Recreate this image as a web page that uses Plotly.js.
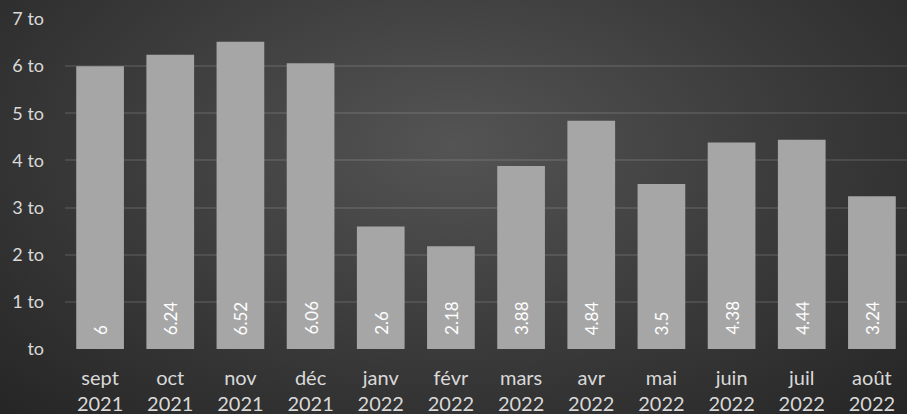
<!DOCTYPE html>
<html>
<head>
<meta charset="utf-8">
<script src="https://cdn.plot.ly/plotly-3.0.1.min.js"></script>
<style>
html,body{margin:0;padding:0;}
#chart{width:907px;height:414px;background:radial-gradient(ellipse 70% 90% at 50% 35%, #545454 0%, #3a3a3a 55%, #262626 100%);}
</style>
</head>
<body>
<div id="chart"></div>
<script>
const categories = ["sept<br>2021","oct<br>2021","nov<br>2021","déc<br>2021","janv<br>2022","févr<br>2022","mars<br>2022","avr<br>2022","mai<br>2022","juin<br>2022","juil<br>2022","août<br>2022"];
const values = [6, 6.24, 6.52, 6.06, 2.6, 2.18, 3.88, 4.84, 3.5, 4.38, 4.44, 3.24];
const yTickVals = [0,1,2,3,4,5,6,7];
const yTickText = ["to","1 to","2 to","3 to","4 to","5 to","6 to","7 to"];
const labels = values.map(v => String(v));

const font = "Lato, 'Noto Sans', sans-serif";
const annotations = categories.map((c, i) => ({
  x: c, y: 0, xref: "x", yref: "y",
  text: labels[i], showarrow: false,
  textangle: -90, yanchor: "bottom", xanchor: "center",
  yshift: 12,
  font: {family: font, size: 17, color: "#ffffff"}
}));

Plotly.newPlot("chart", [{
  type: "bar",
  x: categories,
  y: values,
  marker: {color: "#a6a6a6"},
  hoverinfo: "x+y"
}], {
  width: 907, height: 414,
  margin: {l: 65, r: 0, t: 19, b: 65},
  paper_bgcolor: "rgba(0,0,0,0)",
  plot_bgcolor: "rgba(0,0,0,0)",
  bargap: 0.32,
  showlegend: false,
  annotations: annotations,
  xaxis: {
    tickfont: {family: font, size: 20, color: "#d9d9d9"},
    showgrid: false, zeroline: false, showline: false,
    ticks: "", ticklabelstandoff: 15
  },
  yaxis: {
    range: [0, 7],
    tickvals: yTickVals, ticktext: yTickText,
    tickfont: {family: font, size: 18, color: "#d9d9d9"},
    gridcolor: "rgba(255,255,255,0.1)", gridwidth: 2,
    zeroline: false, showline: false, ticks: "",
    ticklabelstandoff: 20
  }
}, {displayModeBar: false, staticPlot: true});
</script>
</body>
</html>
